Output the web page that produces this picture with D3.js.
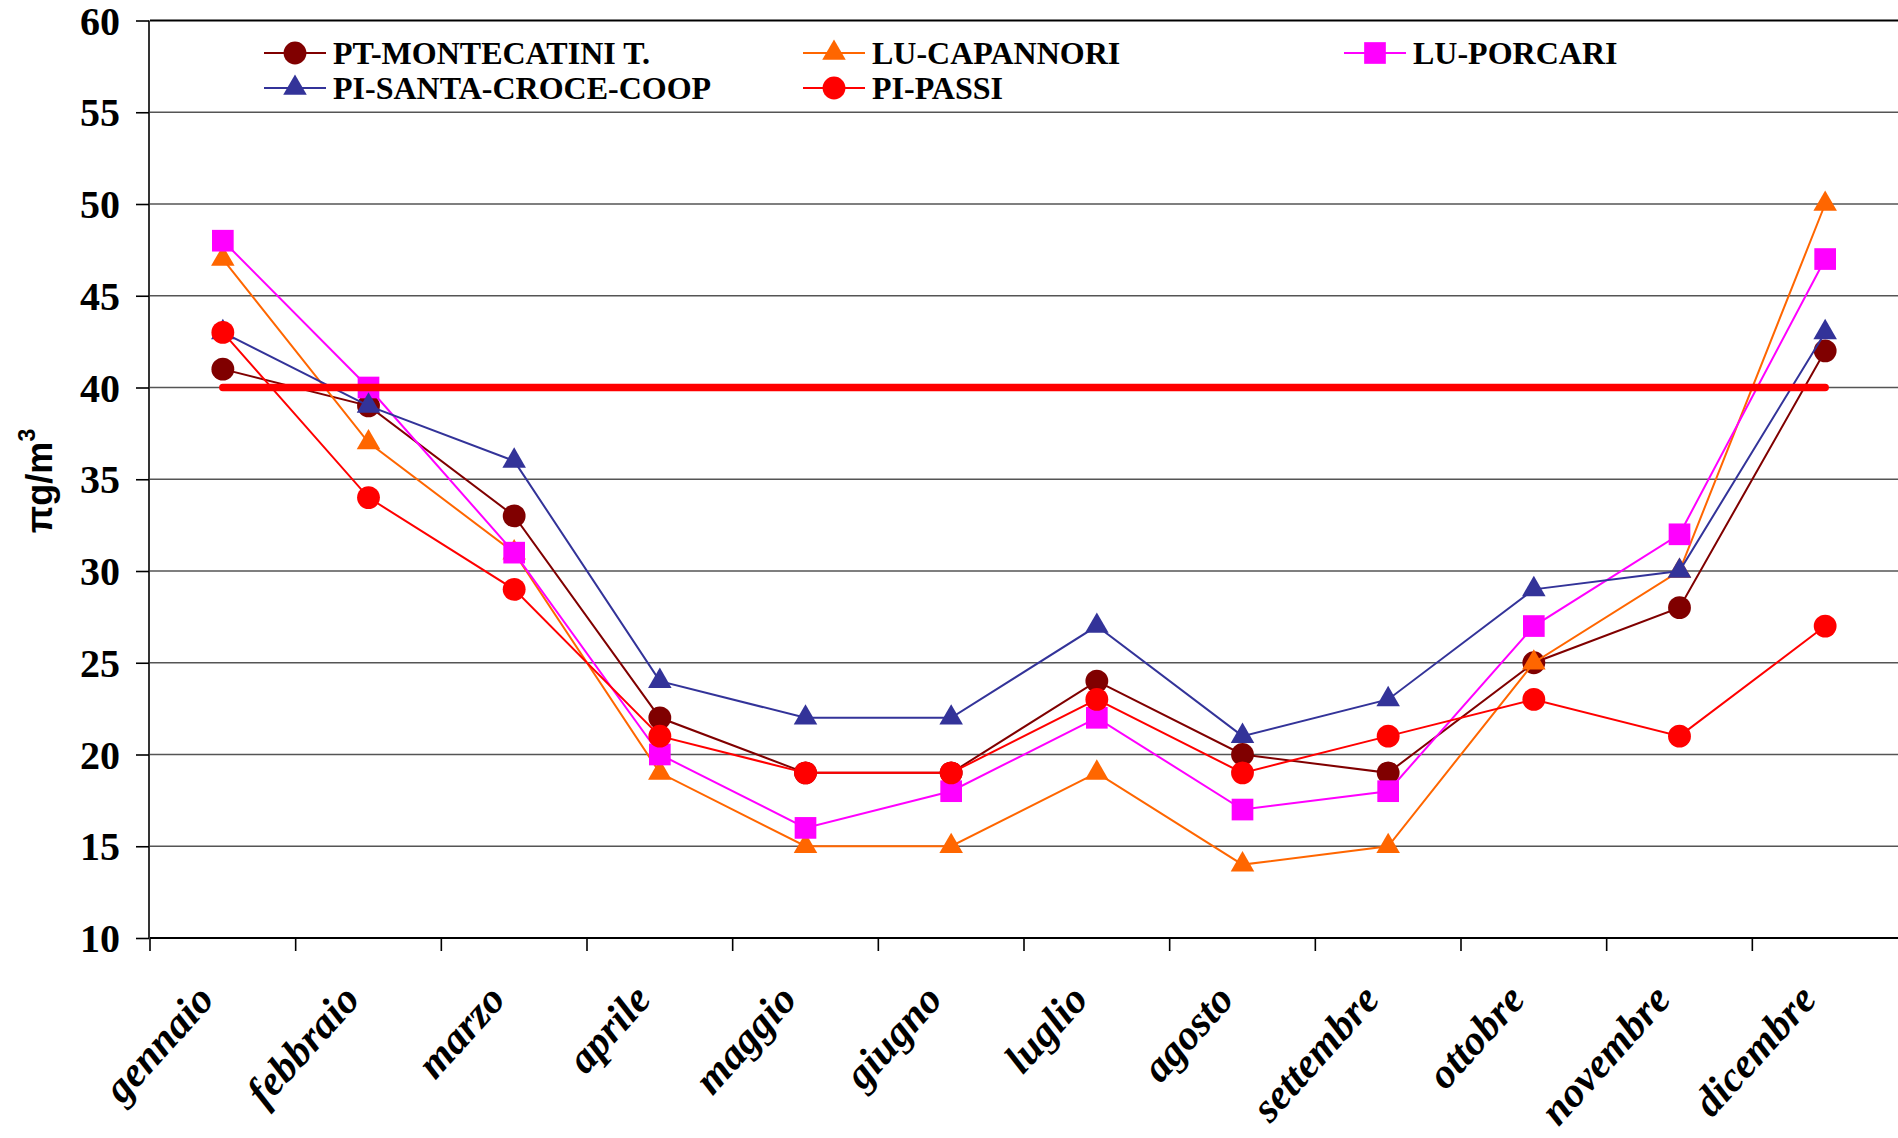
<!DOCTYPE html>
<html>
<head>
<meta charset="utf-8">
<script src="https://cdn.jsdelivr.net/npm/d3@7"></script>
<style>
  body { margin: 0; background: #fff; }
  .tick text { font-family: "Liberation Serif", "Times New Roman", serif; font-weight: bold; }
</style>
</head>
<body>
<script>
// data
var months = ["gennaio", "febbraio", "marzo", "aprile", "maggio", "giugno",
  "luglio", "agosto", "settembre", "ottobre", "novembre", "dicembre"];
var montecatini = [41, 39, 33, 22, 19, 19, 24, 20, 19, 25, 28, 42];
var capannori   = [47, 37, 31, 19, 15, 15, 19, 14, 15, 25, 30, 50];
var porcari     = [48, 40, 31, 20, 16, 18, 22, 17, 18, 27, 32, 47];
var santaCroce  = [43, 39, 36, 24, 22, 22, 27, 21, 23, 29, 30, 43];
var passi       = [43, 34, 29, 21, 19, 19, 23, 19, 21, 23, 21, 27];
var limitValue = 40;
var yTicks = [10, 15, 20, 25, 30, 35, 40, 45, 50, 55, 60];

var series = [
  {name: "PT-MONTECATINI T.", values: montecatini, color: "#800000", shape: "circle"},
  {name: "LU-CAPANNORI", values: capannori, color: "#FF6600", shape: "triangle"},
  {name: "LU-PORCARI", values: porcari, color: "#FF00FF", shape: "square"},
  {name: "PI-SANTA-CROCE-COOP", values: santaCroce, color: "#333399", shape: "triangle"},
  {name: "PI-PASSI", values: passi, color: "#FF0000", shape: "circle"}
];

var width = 1898,
  height = 1138;

var svg = d3.select("body").append("svg")
  .attr("width", width)
  .attr("height", height);

var x = d3.scaleBand()
  .domain(months)
  .range([150, 1898]);

var y = d3.scaleLinear()
  .domain([10, 60])
  .range([938, 20.5]);

var cx = function(i) { return x(months[i]) + x.bandwidth() / 2; };

var symbols = {
  circle: d3.symbol().type(d3.symbolCircle).size(410),
  triangle: d3.symbol().type(d3.symbolTriangle).size(240),
  square: d3.symbol().type(d3.symbolSquare).size(470)
};

// gridlines
svg.append("g")
  .selectAll("line")
  .data(yTicks.slice(1, -1))
  .enter()
    .append("line")
    .attr("x1", 150)
    .attr("x2", width)
    .attr("y1", d => y(d))
    .attr("y2", d => y(d))
    .attr("stroke", "#555")
    .attr("stroke-width", 1.3);

svg.append("line")
  .attr("x1", 150).attr("x2", width)
  .attr("y1", y(60)).attr("y2", y(60))
  .attr("stroke", "#000")
  .attr("stroke-width", 2.2);

// y axis
var yAxis = svg.append("g")
  .attr("transform", "translate(149,0)")
  .call(d3.axisLeft(y).tickValues(yTicks).tickSize(13).tickPadding(16));
yAxis.select(".domain").attr("stroke-width", 1.6).attr("d", "M0," + y(60) + "V" + y(10));
yAxis.selectAll(".tick line").attr("stroke-width", 1.6);
yAxis.selectAll(".tick text")
  .attr("font-size", 40)
  .attr("dy", "0.34em");

// x axis
var xAxis = svg.append("g")
  .attr("transform", "translate(0,938)")
  .call(d3.axisBottom(x).tickSize(0).tickFormat(""));
xAxis.select(".domain").attr("stroke-width", 2.2).attr("d", "M150,0H" + width);

svg.append("g")
  .selectAll("line")
  .data(months)
  .enter()
    .append("line")
    .attr("x1", d => x(d))
    .attr("x2", d => x(d))
    .attr("y1", 938)
    .attr("y2", 951)
    .attr("stroke", "#000")
    .attr("stroke-width", 1.6);

svg.append("g")
  .selectAll("text")
  .data(months)
  .enter()
    .append("text")
    .attr("transform", d => "translate(" + (x(d) + x.bandwidth() / 2 - 7) + ",1001) rotate(-48)")
    .attr("text-anchor", "end")
    .attr("font-family", "'Liberation Serif', 'Times New Roman', serif")
    .attr("font-weight", "bold")
    .attr("font-style", "italic")
    .attr("font-size", 42)
    .text(d => d);

// y label
svg.append("text")
  .attr("transform", "translate(52,481) rotate(-90)")
  .attr("text-anchor", "middle")
  .attr("font-family", "'Liberation Sans', Arial, sans-serif")
  .attr("font-weight", "bold")
  .attr("font-size", 36)
  .text("πg/m")
  .append("tspan")
    .attr("font-size", 23)
    .attr("dy", -17)
    .text("3");

// series
var line = d3.line()
  .x((d, i) => cx(i))
  .y(d => y(d));

series.forEach(function(s) {
  var g = svg.append("g");
  g.append("path")
    .attr("d", line(s.values))
    .attr("fill", "none")
    .attr("stroke", s.color)
    .attr("stroke-width", 2);
  g.selectAll("path.mark")
    .data(s.values)
    .enter()
      .append("path")
      .attr("class", "mark")
      .attr("d", symbols[s.shape])
      .attr("transform", (d, i) => "translate(" + cx(i) + "," + y(d) + ")")
      .attr("fill", s.color);
});

// limit line
svg.append("line")
  .attr("x1", cx(0))
  .attr("x2", cx(11))
  .attr("y1", y(limitValue))
  .attr("y2", y(limitValue))
  .attr("stroke", "#FF0000")
  .attr("stroke-width", 7.5)
  .attr("stroke-linecap", "round");

// legend
var legendPos = [[264, 53], [803, 53], [1344, 53], [264, 88], [803, 88]];
series.forEach(function(s, i) {
  var g = svg.append("g")
    .attr("transform", "translate(" + legendPos[i][0] + "," + legendPos[i][1] + ")");
  g.append("line")
    .attr("x1", 0).attr("x2", 62)
    .attr("stroke", s.color)
    .attr("stroke-width", 2);
  g.append("path")
    .attr("d", symbols[s.shape])
    .attr("transform", "translate(31,0)")
    .attr("fill", s.color);
  g.append("text")
    .attr("x", 69)
    .attr("y", 11)
    .attr("font-family", "'Liberation Serif', 'Times New Roman', serif")
    .attr("font-weight", "bold")
    .attr("font-size", 32)
    .text(s.name);
});
</script>
</body>
</html>
